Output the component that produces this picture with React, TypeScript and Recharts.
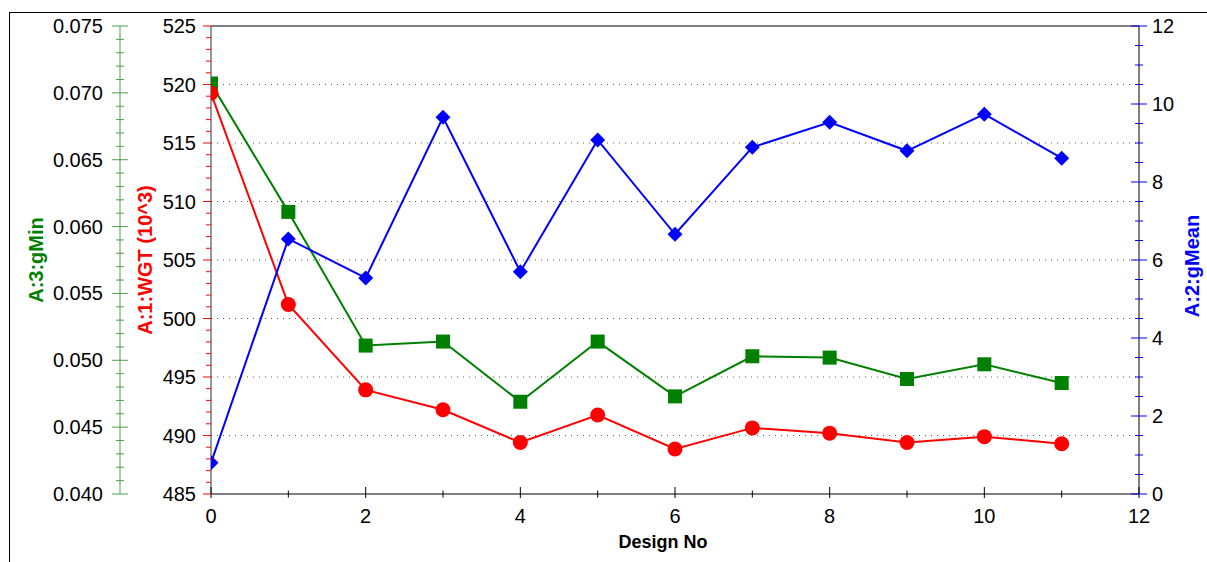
import { Line, LineChart, ReferenceLine, XAxis, YAxis } from "recharts"

const designNo = [0, 1, 2, 3, 4, 5, 6, 7, 8, 9, 10, 11]
const wgt = [519.25, 501.2, 493.9, 492.2, 489.4, 491.75, 488.85, 490.65, 490.2, 489.4, 489.9, 489.3]
const gMean = [0.8, 6.54, 5.54, 9.66, 5.7, 9.08, 6.66, 8.89, 9.53, 8.8, 9.74, 8.61]
const gMin = [0.0707, 0.0611, 0.0511, 0.0514, 0.0469, 0.0514, 0.0473, 0.0503, 0.0502, 0.0486, 0.0497, 0.0483]

const xTickLabels = [0, 2, 4, 6, 8, 10, 12]
const wgtTickLabels = [485, 490, 495, 500, 505, 510, 515, 520, 525]
const gMinTickLabels = [0.04, 0.045, 0.05, 0.055, 0.06, 0.065, 0.07, 0.075]
const gMeanTickLabels = [0, 2, 4, 6, 8, 10, 12]
const gridValues = [490, 495, 500, 505, 510, 515, 520]

const FONT = '"Liberation Sans", Arial, sans-serif'
const RED = "#ff0000"
const GREEN = "#008000"
const AXIS_GREEN = "#4f9f4f"
const BLUE = "#0000ff"

// axis ids: recharts stacks same-side axes by id, so prefixes keep the order (inner first)
const ID_MEAN_L = "a_gMeanMirror"
const ID_WGT = "b_wgt"
const ID_MIN = "c_gMin"
const ID_WGT_R = "a_wgtMirror"
const ID_MIN_R = "b_gMinMirror"
const ID_MEAN = "c_gMean"

// majors plus evenly spaced minor ticks between them
function withMinor(majors: number[], parts: number) {
  const out: number[] = []
  for (let i = 0; i < majors.length - 1; i++) {
    const step = (majors[i + 1] - majors[i]) / parts
    for (let k = 0; k < parts; k++) out.push(+(majors[i] + k * step).toFixed(6))
  }
  out.push(majors[majors.length - 1])
  return out
}
const isMajor = (v: number, majors: number[]) => majors.some((m) => Math.abs(m - v) < 1e-9)

const xTicks = withMinor(xTickLabels, 2)
const wgtTicks = withMinor(wgtTickLabels, 5)
const gMinTicks = withMinor(gMinTickLabels, 5)
const gMeanTicks = withMinor(gMeanTickLabels, 4)

const data = designNo.map((d, i) => ({ design: d, wgt: wgt[i], gMean: gMean[i], gMin: gMin[i] }))

const label = { fontFamily: FONT, fontSize: 20, fill: "#000" }

const XTick = ({ x, y, payload }: any) => {
  const major = isMajor(payload.value, xTickLabels)
  return (
    <g>
      <line x1={x} x2={x} y1={major ? y - 7 : y - 3.5} y2={major ? y + 4 : y + 3.5} stroke="#000" />
      {major && (
        <text x={x} y={y + 22} textAnchor="middle" dominantBaseline="central" {...label}>
          {payload.value}
        </text>
      )}
    </g>
  )
}

const WgtTick = ({ x, y, payload }: any) => {
  const major = isMajor(payload.value, wgtTickLabels)
  return (
    <g>
      <line x1={x - (major ? 8 : 5)} x2={x} y1={y} y2={y} stroke={RED} />
      {major && (
        <text x={x - 15} y={y} textAnchor="end" dominantBaseline="central" {...label}>
          {payload.value}
        </text>
      )}
    </g>
  )
}

const GMinTick = ({ x, y, payload }: any) => {
  const major = isMajor(payload.value, gMinTickLabels)
  const len = major ? 8 : 4
  return (
    <g>
      <line x1={x - len} x2={x + len} y1={y} y2={y} stroke={AXIS_GREEN} />
      {major && (
        <text x={x - 17} y={y} textAnchor="end" dominantBaseline="central" {...label}>
          {payload.value.toFixed(3)}
        </text>
      )}
    </g>
  )
}

const GMeanTick = ({ x, y, payload }: any) => {
  const major = isMajor(payload.value, gMeanTickLabels)
  const len = major ? 8 : 4
  return (
    <g>
      <line x1={x - len} x2={x + len} y1={y} y2={y} stroke={BLUE} />
      {major && (
        <text x={x + 13} y={y} textAnchor="start" dominantBaseline="central" {...label}>
          {payload.value}
        </text>
      )}
    </g>
  )
}

// mirrored ticks drawn just inside the plot frame
const mirrorTick = (color: string, majors: number[], side: 1 | -1) => ({ x, y, payload }: any) => {
  const len = isMajor(payload.value, majors) ? 8 : 4
  return <line x1={x} x2={x + side * len} y1={y} y2={y} stroke={color} strokeOpacity={0.8} />
}

const title = (text: string, x: number, y: number, color: string) => () => (
  <text
    x={x}
    y={y}
    transform={`rotate(-90 ${x} ${y})`}
    textAnchor="middle"
    dominantBaseline="central"
    fontFamily={FONT}
    fontSize={20}
    fontWeight="bold"
    fill={color}
  >
    {text}
  </text>
)

const Square = ({ cx, cy }: any) => <rect x={cx - 7} y={cy - 7} width={14} height={14} fill={GREEN} />
const Diamond = ({ cx, cy }: any) => (
  <path d={`M${cx},${cy - 7.5}L${cx + 7.5},${cy}L${cx},${cy + 7.5}L${cx - 7.5},${cy}Z`} fill={BLUE} />
)

const hiddenTickAxis = { type: "number" as const, interval: 0, tickSize: 0, tickMargin: 0, tickLine: false }

export default function App() {
  return (
    <div
      style={{
        position: "absolute",
        left: 0,
        top: 0,
        width: 1207,
        height: 562,
        overflow: "hidden",
        background: "#fff",
      }}
    >
      <div
        style={{
          position: "absolute",
          left: 9,
          top: 12,
          width: 1300,
          height: 700,
          border: "1px solid #000",
        }}
      />
      <div style={{ position: "absolute", left: 0, top: 0 }}>
        <LineChart width={1207} height={562} data={data} margin={{ top: 26, right: 8, bottom: 18, left: 10 }}>
          <XAxis
            dataKey="design"
            type="number"
            domain={[0, 12]}
            ticks={xTicks}
            interval={0}
            allowDataOverflow
            tickSize={0}
            tickMargin={0}
            tickLine={false}
            tick={XTick}
            axisLine={{ stroke: "#000" }}
            height={50}
            label={() => (
              <text x={663} y={542} textAnchor="middle" dominantBaseline="central" fontFamily={FONT} fontSize={18} fontWeight="bold" fill="#000">
                Design No
              </text>
            )}
          />
          <YAxis
            yAxisId={ID_MEAN_L}
            orientation="left"
            width={0}
            domain={[0, 12]}
            ticks={gMeanTicks}
            axisLine={false}
            tick={mirrorTick(BLUE, gMeanTickLabels, 1)}
            {...hiddenTickAxis}
          />
          <YAxis
            yAxisId={ID_WGT}
            orientation="left"
            width={91}
            domain={[485, 525]}
            ticks={wgtTicks}
            axisLine={{ stroke: "#333" }}
            tick={WgtTick}
            label={title("A:1:WGT (10^3)", 145, 260, RED)}
            {...hiddenTickAxis}
          />
          <YAxis
            yAxisId={ID_MIN}
            orientation="left"
            width={110}
            domain={[0.04, 0.075]}
            ticks={gMinTicks}
            axisLine={{ stroke: AXIS_GREEN }}
            tick={GMinTick}
            label={title("A:3:gMin", 36, 260, GREEN)}
            {...hiddenTickAxis}
          />
          <YAxis
            yAxisId={ID_WGT_R}
            orientation="right"
            width={0}
            domain={[485, 525]}
            ticks={wgtTicks}
            axisLine={false}
            tick={mirrorTick(RED, [], -1)}
            {...hiddenTickAxis}
          />
          <YAxis
            yAxisId={ID_MIN_R}
            orientation="right"
            width={0}
            domain={[0.04, 0.075]}
            ticks={gMinTicks}
            axisLine={false}
            tick={mirrorTick(AXIS_GREEN, gMinTickLabels, -1)}
            {...hiddenTickAxis}
          />
          <YAxis
            yAxisId={ID_MEAN}
            orientation="right"
            width={60}
            domain={[0, 12]}
            ticks={gMeanTicks}
            axisLine={{ stroke: "#000" }}
            tick={GMeanTick}
            label={title("A:2:gMean", 1192, 266, BLUE)}
            {...hiddenTickAxis}
          />
          {gridValues.map((v) => (
            <ReferenceLine key={v} yAxisId={ID_WGT} y={v} stroke="#555" strokeDasharray="1 5" />
          ))}
          <ReferenceLine yAxisId={ID_WGT} y={525} stroke="#000" />
          <Line
            yAxisId={ID_MIN}
            dataKey="gMin"
            stroke={GREEN}
            strokeWidth={2}
            dot={Square}
            activeDot={false}
            isAnimationActive={false}
          />
          <Line
            yAxisId={ID_WGT}
            dataKey="wgt"
            stroke={RED}
            strokeWidth={2}
            dot={{ r: 7.5, fill: RED, stroke: RED, strokeWidth: 0 }}
            activeDot={false}
            isAnimationActive={false}
          />
          <Line
            yAxisId={ID_MEAN}
            dataKey="gMean"
            stroke={BLUE}
            strokeWidth={2}
            dot={Diamond}
            activeDot={false}
            isAnimationActive={false}
          />
        </LineChart>
      </div>
    </div>
  )
}
